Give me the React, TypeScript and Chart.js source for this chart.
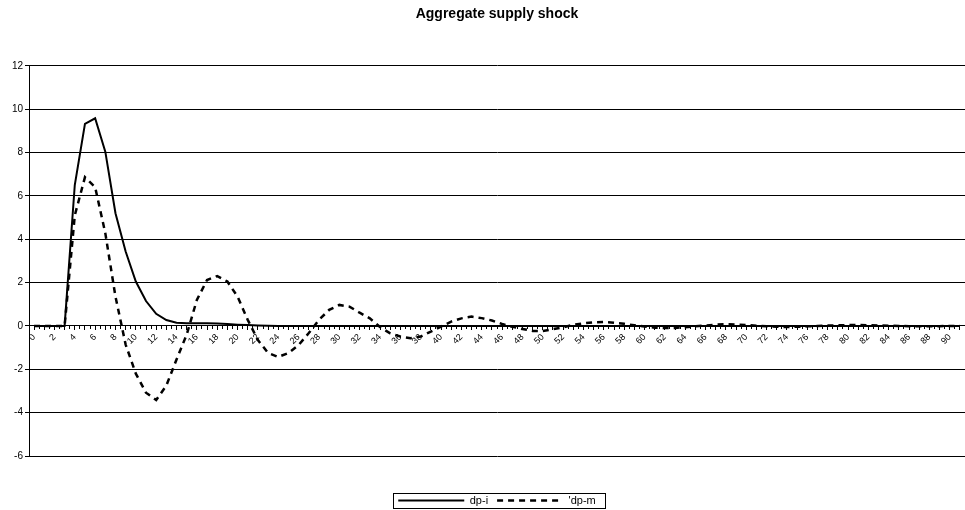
import React, { useEffect, useRef } from 'react';
import { Chart, registerables } from 'chart.js';

Chart.register(...registerables);

const chartTitle = 'Aggregate supply shock';

const categories = [
  '0', '1', '2', '3', '4', '5', '6', '7', '8', '9',
  '10', '11', '12', '13', '14', '15', '16', '17', '18', '19',
  '20', '21', '22', '23', '24', '25', '26', '27', '28', '29',
  '30', '31', '32', '33', '34', '35', '36', '37', '38', '39',
  '40', '41', '42', '43', '44', '45', '46', '47', '48', '49',
  '50', '51', '52', '53', '54', '55', '56', '57', '58', '59',
  '60', '61', '62', '63', '64', '65', '66', '67', '68', '69',
  '70', '71', '72', '73', '74', '75', '76', '77', '78', '79',
  '80', '81', '82', '83', '84', '85', '86', '87', '88', '89',
  '90', '91',
];

const dpI = [
  0, 0, 0, 0, 6.5, 9.32, 9.58, 8.04, 5.2, 3.43,
  2.05, 1.15, 0.56, 0.27, 0.15, 0.12, 0.12, 0.12, 0.11, 0.09,
  0.06, 0.04, 0.02, 0.01, 0, 0, 0, 0, 0, 0,
  0, 0, 0, 0, 0, 0, 0, 0, 0, 0,
  0, 0, 0, 0, 0, 0, 0, 0, 0, 0,
  0, 0, 0, 0, 0, 0, 0, 0, 0, 0,
  0, 0, 0, 0, 0, 0, 0, 0, 0, 0,
  0, 0, 0, 0, 0, 0, 0, 0, 0, 0,
  0, 0, 0, 0, 0, 0, 0, 0, 0, 0,
  0, 0,
];

const dpM = [
  0, 0, 0, 0, 5.1, 6.86, 6.4, 4.28, 1.35, -0.86,
  -2.2, -3.08, -3.42, -2.75, -1.55, -0.4, 1.2, 2.12, 2.3, 2.05,
  1.35, 0.28, -0.65, -1.25, -1.43, -1.25, -0.88, -0.33, 0.28, 0.74,
  0.97, 0.89, 0.61, 0.35, -0.05, -0.34, -0.49, -0.57, -0.49, -0.26,
  -0.03, 0.2, 0.35, 0.43, 0.36, 0.25, 0.09, -0.04, -0.14, -0.23,
  -0.23, -0.15, -0.06, 0.05, 0.12, 0.17, 0.18, 0.15, 0.1, 0.03,
  -0.03, -0.08, -0.1, -0.09, -0.06, -0.02, 0.02, 0.06, 0.08, 0.07,
  0.04, 0.01, -0.02, -0.04, -0.05, -0.04, -0.02, 0, 0.02, 0.03,
  0.04, 0.04, 0.03, 0.02, 0.01, 0, -0.01, -0.02, -0.02, -0.01,
  0, 0,
];

const seriesNames = ['dp-i', "'dp-m"];

const yMin = -6;
const yMax = 12;
const yStep = 2;

const legendBoxPlugin = {
  id: 'legendBox',
  afterDraw(chart: any) {
    const lg = chart.legend;
    if (!lg || !lg.legendHitBoxes || !lg.legendHitBoxes.length) return;
    const hb = lg.legendHitBoxes;
    const left = Math.min(...hb.map((h: any) => h.left)) - 5;
    const right = Math.max(...hb.map((h: any) => h.left + h.width)) + 9;
    const cy = hb[0].top + hb[0].height / 2;
    const ctx = chart.ctx;
    ctx.save();
    ctx.strokeStyle = '#000';
    ctx.lineWidth = 1;
    ctx.setLineDash([]);
    ctx.strokeRect(Math.round(left) + 0.5, Math.round(cy - 8) + 0.5, Math.round(right - left), 15);
    ctx.restore();
  },
};

const noSidePadding = (s: any) => {
  s.paddingLeft = 0;
  s.paddingRight = 0;
};

export default function App() {
  const canvasRef = useRef<HTMLCanvasElement | null>(null);

  useEffect(() => {
    if (!canvasRef.current) return;
    Chart.defaults.font.family = "'Liberation Sans', Arial, sans-serif";
    Chart.defaults.color = '#000';

    const chart = new Chart(canvasRef.current, {
      type: 'line',
      data: {
        labels: categories,
        datasets: [
          {
            label: seriesNames[0],
            data: dpI,
            borderColor: '#000',
            backgroundColor: '#000',
            borderWidth: 2,
            pointRadius: 0,
            tension: 0,
            fill: false,
          },
          {
            label: seriesNames[1],
            data: dpM,
            borderColor: '#000',
            backgroundColor: '#000',
            borderWidth: 2.5,
            borderDash: [6, 5],
            pointRadius: 0,
            tension: 0,
            fill: false,
          },
        ],
      },
      options: {
        responsive: false,
        animation: false,
        devicePixelRatio: 1,
        layout: { padding: { left: 0, right: 0, top: 0, bottom: -6 } },
        plugins: {
          title: {
            display: true,
            text: chartTitle,
            color: '#000',
            fullSize: false,
            font: { size: 14, weight: 'bold' },
            padding: { top: 6, bottom: 43 },
          },
          legend: {
            position: 'bottom',
            fullSize: false,
            title: {
              display: true,
              text: '',
              padding: { top: 29, bottom: 0 },
              font: { size: 1, lineHeight: 1 },
            },
            labels: {
              usePointStyle: true,
              pointStyle: 'line',
              pointStyleWidth: 66,
              boxHeight: 11,
              padding: 9,
              color: '#000',
              font: { size: 11 },
              generateLabels: (chart: any) => {
                const items = Chart.defaults.plugins.legend.labels.generateLabels(chart);
                return items.map((it: any) => {
                  const ds = chart.data.datasets[it.datasetIndex];
                  return {
                    ...it,
                    pointStyle: 'line',
                    lineDash: ds.borderDash || [],
                    lineWidth: ds.borderWidth,
                    strokeStyle: ds.borderColor,
                  };
                });
              },
            },
          },
          tooltip: { enabled: false },
        },
        scales: {
          x: {
            type: 'category',
            offset: true,
            position: { y: 0 },
            afterFit: noSidePadding,
            grid: {
              drawOnChartArea: false,
              drawTicks: true,
              tickLength: 4,
              color: '#000',
              offset: false,
            },
            border: { display: true, color: '#000', width: 1 },
            ticks: {
              autoSkip: false,
              minRotation: 45,
              maxRotation: 45,
              padding: 2,
              color: '#000',
              font: { size: 9 },
              callback: (_v: any, i: number) => (i % 2 === 0 ? categories[i] : ''),
            },
          },
          xMinor: {
            type: 'category',
            axis: 'x',
            labels: categories,
            offset: true,
            position: { y: 0 },
            afterFit: noSidePadding,
            grid: {
              drawOnChartArea: false,
              drawTicks: true,
              tickLength: 3,
              color: '#000',
              offset: true,
            },
            border: { display: false },
            ticks: { display: false },
          },
          y: {
            type: 'linear',
            position: 'left',
            min: yMin,
            max: yMax,
            ticks: { stepSize: yStep, color: '#000', font: { size: 10 }, padding: 2 },
            grid: { color: '#000', tickLength: 4 },
            border: { display: true, color: '#000' },
            afterFit: (s: any) => {
              s.width = 29;
            },
          },
        },
      } as any,
      plugins: [legendBoxPlugin],
    });

    return () => chart.destroy();
  }, []);

  return (
    <div style={{ position: 'fixed', left: 0, top: 0, width: 965, height: 510, background: '#fff' }}>
      <canvas ref={canvasRef} width={965} height={510} style={{ width: 965, height: 510, display: 'block' }} />
    </div>
  );
}
